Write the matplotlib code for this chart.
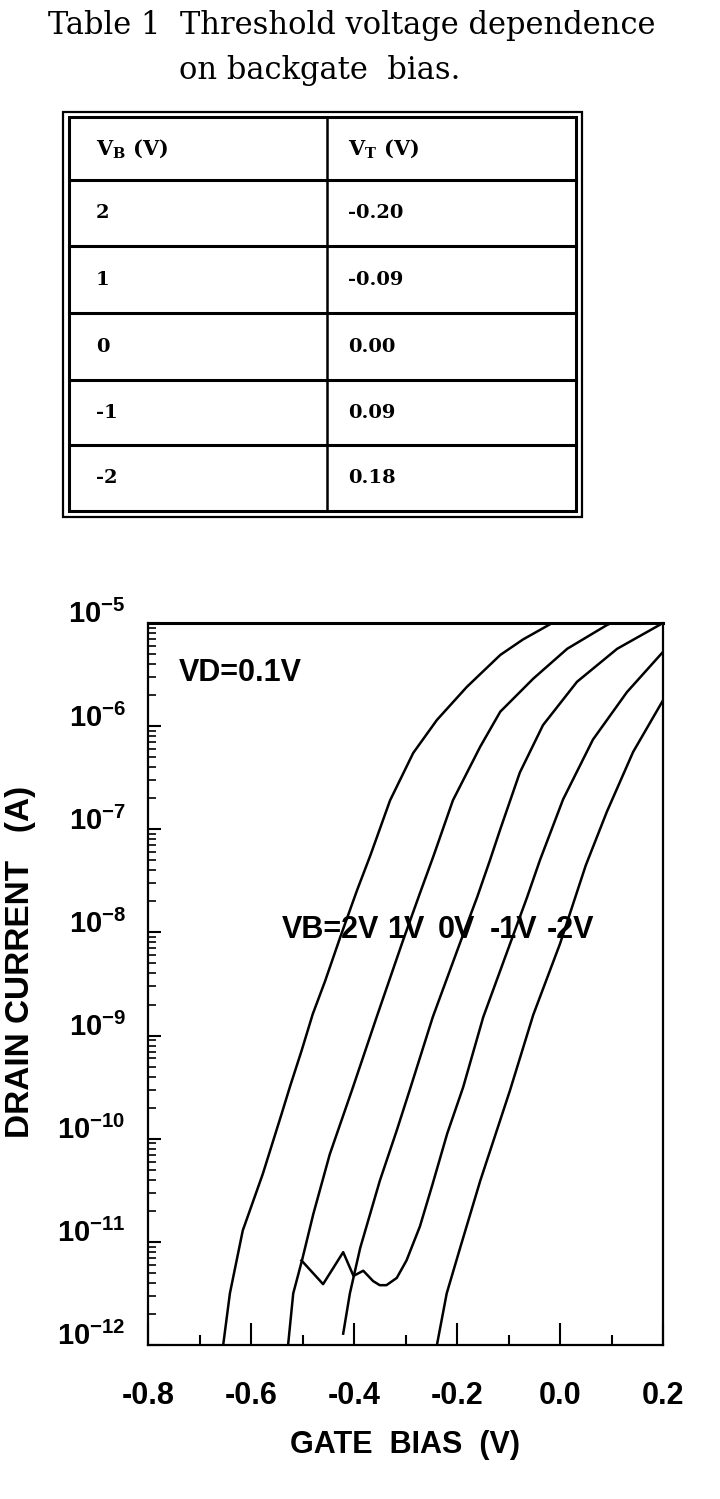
import numpy as np
import matplotlib.pyplot as plt
from matplotlib.patches import Rectangle
from matplotlib.ticker import LogLocator, NullFormatter
from matplotlib.transforms import ScaledTranslation

plt.rcParams['font.family'] = ['Liberation Sans', 'DejaVu Sans']
plt.rcParams['font.weight'] = 'bold'
plt.rcParams['mathtext.fontset'] = 'custom'
plt.rcParams['mathtext.rm'] = 'Liberation Sans:bold'
plt.rcParams['mathtext.it'] = 'Liberation Sans:bold'
plt.rcParams['mathtext.bf'] = 'Liberation Sans:bold'
plt.rcParams['mathtext.sf'] = 'DejaVu Serif:bold'
plt.rcParams['mathtext.default'] = 'rm'

# Table 1 values
vb_table = ['2', '1', '0', '-1', '-2']
vt_table = ['-0.20', '-0.09', '0.00', '0.09', '0.18']

# drain current curves: gate bias (V) and log10 of drain current (A)
vg_p2 = [-0.654, -0.641, -0.616, -0.577, -0.540, -0.524, -0.502, -0.480, -0.456,
         -0.427, -0.394, -0.368, -0.330, -0.285, -0.239, -0.181, -0.116, -0.072, -0.015]
id_p2 = [-12.0, -11.50, -10.89, -10.34, -9.75, -9.49, -9.15, -8.79, -8.47,
         -8.05, -7.59, -7.25, -6.72, -6.26, -5.94, -5.62, -5.31, -5.16, -5.0]

vg_p1 = [-0.528, -0.518, -0.501, -0.479, -0.447, -0.404, -0.356, -0.305, -0.272, -0.245,
         -0.208, -0.155, -0.116, -0.052, 0.014, 0.091, 0.100]
id_p1 = [-12.0, -11.50, -11.18, -10.73, -10.15, -9.53, -8.82, -8.08, -7.62, -7.25,
         -6.72, -6.20, -5.86, -5.54, -5.25, -5.02, -5.0]

vg_0 = [-0.421, -0.408, -0.388, -0.350, -0.317, -0.290, -0.247, -0.194, -0.161, -0.136,
        -0.116, -0.078, -0.033, 0.033, 0.111, 0.200]
id_0 = [-11.89, -11.50, -11.06, -10.41, -9.92, -9.50, -8.82, -8.10, -7.66, -7.30,
        -7.00, -6.45, -5.99, -5.57, -5.25, -5.0]

vg_m1 = [-0.502, -0.460, -0.421, -0.401, -0.382, -0.363, -0.350, -0.337, -0.317, -0.298,
         -0.272, -0.248, -0.219, -0.188, -0.149, -0.097, -0.064, -0.039, 0.006, 0.064,
         0.130, 0.200]
id_m1 = [-11.18, -11.41, -11.10, -11.33, -11.28, -11.38, -11.42, -11.42, -11.35, -11.18,
         -10.85, -10.45, -9.95, -9.50, -8.82, -8.11, -7.66, -7.30, -6.71, -6.13,
         -5.67, -5.28]

vg_m2 = [-0.239, -0.220, -0.194, -0.155, -0.097, -0.052, 0.000, 0.050, 0.091, 0.142, 0.200]
id_m2 = [-12.0, -11.50, -11.06, -10.41, -9.53, -8.80, -8.11, -7.35, -6.83, -6.25, -5.75]

curve_labels = ['VB=2V', '1V', '0V', '-1V', '-2V']

W, H = 720, 1499
fig = plt.figure(figsize=(W / 100, H / 100), dpi=100)

# full page axes in pixel units for the table
bg = fig.add_axes([0, 0, 1, 1])
bg.set_xlim(0, W)
bg.set_ylim(H, 0)
bg.axis('off')

bg.text(48, 25, 'Table 1  Threshold voltage dependence', family='DejaVu Serif',
        weight='normal', size=22, va='center', ha='left')
bg.text(179, 70, 'on backgate  bias.', family='DejaVu Serif',
        weight='normal', size=22, va='center', ha='left')

row_y = [117, 180, 246, 313, 380, 445, 511]
bg.add_patch(Rectangle((63, 112), 519, 405, fill=False, ec='k', lw=1.6))
bg.add_patch(Rectangle((69, row_y[0]), 507, row_y[-1] - row_y[0], fill=False, ec='k', lw=2.2))
for y in row_y[1:-1]:
    bg.plot([69, 576], [y, y], color='k', lw=2.2)
bg.plot([327, 327], [row_y[0], row_y[-1]], color='k', lw=1.8)

tfont = dict(family='DejaVu Serif', weight='bold', size=14, va='center', ha='left')
bg.text(96, (row_y[0] + row_y[1]) / 2, r'$\mathsf{V_B}$ (V)', **dict(tfont, size=15))
bg.text(348, (row_y[0] + row_y[1]) / 2, r'$\mathsf{V_T}$ (V)', **dict(tfont, size=15))
for i in range(len(vb_table)):
    yc = (row_y[i + 1] + row_y[i + 2]) / 2
    bg.text(96, yc, vb_table[i], **tfont)
    bg.text(348, yc, vt_table[i], **tfont)

# the plot
ax = fig.add_axes([148 / W, 1 - 1345 / H, 515 / W, 722 / H])
for vg, lid in [(vg_p2, id_p2), (vg_p1, id_p1), (vg_0, id_0), (vg_m1, id_m1), (vg_m2, id_m2)]:
    ax.plot(vg, 10 ** np.array(lid), color='k', lw=1.8)

ax.set_yscale('log')
ax.set_xlim(-0.8, 0.2)
ax.set_ylim(1e-12, 1e-5)

xt = [-0.8, -0.6, -0.4, -0.2, 0.0, 0.2]
ax.set_xticks(xt)
ax.set_xticklabels(['-0.8', '-0.6', '-0.4', '-0.2', '0.0', '0.2'])
ax.set_xticks([-0.7, -0.5, -0.3, -0.1, 0.1], minor=True)

yt = 10.0 ** np.arange(-12, -4)
ax.set_yticks(yt)
ax.set_yticklabels([r'$10^{%d}$' % e for e in range(-12, -4)])
ax.yaxis.set_minor_locator(LogLocator(base=10, subs=np.arange(2, 10)))
ax.yaxis.set_minor_formatter(NullFormatter())

ax.tick_params(axis='x', which='major', direction='in', length=16, width=1.5, pad=26, labelsize=22)
ax.tick_params(axis='x', which='minor', direction='in', length=7, width=1.5)
ax.tick_params(axis='y', which='major', direction='in', length=9, width=1.5, pad=16, labelsize=21)
ax.tick_params(axis='y', which='minor', direction='in', length=6, width=1.2)
ax.tick_params(top=False, right=False)

for s in ax.spines.values():
    s.set_linewidth(1.6)
ax.spines['top'].set_linewidth(2.2)

for lbl in ax.get_yticklabels():
    lbl.set_transform(lbl.get_transform() + ScaledTranslation(0, 8 / 72, fig.dpi_scale_trans))

def fx(px):
    return px / W

def fy(py):
    return 1 - py / H

fig.text(fx(179), fy(673), 'VD=0.1V', size=22, va='center', ha='left')
for lab, px in zip(curve_labels, [282, 387, 438, 490, 547]):
    fig.text(fx(px), fy(930), lab, size=22, va='center', ha='left')

fig.text(fx(21), fy(962), 'DRAIN CURRENT   (A)', size=24, rotation=90, va='center', ha='center')
fig.text(fx(405), fy(1445), 'GATE  BIAS  (V)', size=22, va='center', ha='center')

fig.savefig('out.png', dpi=100, facecolor='white')
